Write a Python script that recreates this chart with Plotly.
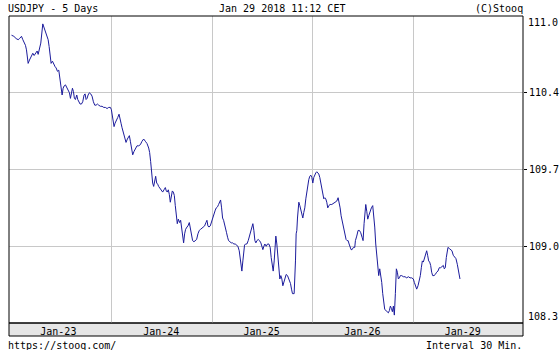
import plotly.graph_objects as go

# ---- data: hours since Jan 23 00:00 CET (trading-time axis), USDJPY price ----
hours = [
    0.00, 0.56, 1.11, 1.59, 1.91, 2.39, 2.71, 3.02, 3.34, 3.58, 3.82, 3.98, 4.30, 4.70,
    5.09, 5.41, 5.73, 6.13, 6.37, 6.69, 7.00, 7.48, 7.80, 8.12, 8.52, 8.76, 8.99, 9.23,
    9.47, 9.79, 10.11, 10.43, 10.67, 10.98, 11.30, 11.54, 11.70, 11.94, 12.10, 12.34,
    12.58, 12.90, 13.21, 13.53, 13.85, 14.09, 14.33, 14.57, 14.81, 15.04, 15.28, 15.60,
    15.84, 16.08, 16.40, 16.72, 17.03, 17.35, 17.59, 17.83, 18.07, 18.31, 18.63, 18.94,
    19.26, 19.58, 19.90, 20.22, 20.54, 20.85, 21.25, 21.65, 22.05, 22.45, 22.85, 23.24,
    23.64, 23.88, 24.04, 24.28, 24.52, 24.76, 25.07, 25.39, 25.71, 25.95, 26.19, 26.43,
    26.75, 27.06, 27.38, 27.70, 28.02,
    28.18, 28.42, 28.66, 28.98, 29.29, 29.61, 30.01, 30.41, 30.81, 31.20, 31.60, 32.00,
    32.40, 32.80, 33.03, 33.27, 33.43, 33.59, 33.75, 33.99, 34.23, 34.47, 34.71, 34.95,
    35.18, 35.50, 35.82, 36.14, 36.46, 36.78, 37.01, 37.25, 37.49, 37.73, 37.97, 38.21,
    38.45, 38.69, 38.93, 39.16, 39.40, 39.64, 39.88, 40.20, 40.44, 40.68, 40.92, 41.15,
    41.39, 41.63, 41.95, 42.19, 42.51, 42.75, 42.98, 43.30, 43.62, 43.94, 44.26, 44.58,
    44.89, 45.21, 45.53, 45.85, 46.17, 46.49, 46.73, 46.96, 47.20, 47.52, 47.76, 48.00,
    48.24, 48.48, 48.72, 48.96, 49.27, 49.51, 49.75, 49.99, 50.23, 50.47, 50.71, 50.95,
    51.18, 51.42, 51.66, 51.90, 52.22, 52.54, 52.86, 53.17, 53.49, 53.81, 54.13, 54.45,
    54.69, 54.92, 55.08, 55.32, 55.56, 55.72,
    55.96, 56.28, 56.60, 56.92, 57.23, 57.55, 57.71, 57.95, 58.19, 58.43, 58.67, 58.99,
    59.30, 59.62, 59.86, 60.10, 60.34, 60.58, 60.90, 61.21, 61.53, 61.85, 62.09, 62.33,
    62.57, 62.81, 63.04, 63.20, 63.44, 63.68, 63.92, 64.16, 64.40, 64.64, 64.88, 65.11,
    65.35, 65.67, 65.99, 66.23, 66.47, 66.71, 66.95, 67.18, 67.58, 67.74, 67.90, 68.06,
    68.22, 68.38, 68.54, 68.70, 68.94, 69.18, 69.41, 69.65, 69.89, 70.13, 70.37, 70.61,
    70.85, 71.08, 71.32, 71.56, 71.80, 72.04, 72.28, 72.52, 72.76, 72.99, 73.23, 73.47,
    73.71, 73.95, 74.19, 74.43, 74.67, 74.91, 75.14, 75.38, 75.62, 75.86, 76.18, 76.58,
    76.97, 77.37, 77.77, 78.09, 78.33, 78.57, 78.81, 79.04, 79.28, 79.52, 79.76, 80.00,
    80.24, 80.48, 80.72, 80.96, 81.19, 81.43, 81.75, 82.07,
    82.23, 82.55, 82.87, 83.19, 83.50, 83.82, 84.06, 84.30, 84.54, 84.70, 84.94, 85.18,
    85.41, 85.73, 86.05, 86.37, 86.61, 86.85, 87.09, 87.33, 87.56, 87.80, 88.04, 88.28,
    88.52, 88.76, 89.00, 89.24, 89.55, 89.87, 90.11, 90.35, 90.59, 90.83, 91.07, 91.31,
    91.54, 91.78, 92.02, 92.26, 92.50, 92.74, 92.98, 93.30, 93.69, 94.09, 94.49, 94.89,
    95.29, 95.68, 96.08, 96.32, 96.56, 96.88, 97.20, 97.51, 97.75, 97.99, 98.23, 98.47,
    98.71, 99.03, 99.27, 99.50, 99.74, 99.98, 100.22, 100.46, 100.70, 101.02, 101.33,
    101.65, 101.97, 102.29, 102.61, 102.93, 103.25, 103.48, 103.72, 103.96, 104.20,
    104.36, 104.68, 105.00, 105.31, 105.63, 105.95, 106.27, 106.59, 106.83, 107.07, 107.23,
]

prices = [
    110.87, 110.86, 110.84, 110.83, 110.84, 110.86, 110.83, 110.81, 110.78, 110.74, 110.68,
    110.62, 110.65, 110.68, 110.71, 110.69, 110.71, 110.73, 110.70, 110.74, 110.80, 110.97,
    110.93, 110.90, 110.86, 110.83, 110.77, 110.71, 110.62, 110.64, 110.61, 110.59, 110.58,
    110.55, 110.56, 110.49, 110.45, 110.39, 110.34, 110.40, 110.42, 110.43, 110.41, 110.39,
    110.36, 110.31, 110.36, 110.40, 110.37, 110.31, 110.30, 110.34, 110.30, 110.28, 110.26,
    110.26, 110.28, 110.34, 110.35, 110.30, 110.31, 110.34, 110.36, 110.35, 110.33, 110.28,
    110.25, 110.25, 110.26, 110.25, 110.24, 110.24, 110.23, 110.23, 110.22, 110.23, 110.23,
    110.21, 110.18, 110.12, 110.06, 110.09, 110.11, 110.14, 110.17, 110.14, 110.09, 110.05,
    110.01, 109.96, 109.92, 109.95, 109.98,
    109.98, 109.93, 109.87, 109.81, 109.84, 109.87, 109.89, 109.89, 109.90, 109.93, 109.95,
    109.93, 109.91, 109.87, 109.83, 109.75, 109.68, 109.62, 109.56, 109.53, 109.59, 109.62,
    109.56, 109.55, 109.53, 109.51, 109.50, 109.48, 109.50, 109.52, 109.49, 109.48, 109.50,
    109.46, 109.39, 109.45, 109.49, 109.48, 109.45, 109.36, 109.25, 109.20, 109.24, 109.21,
    109.23, 109.17, 109.09, 109.03, 109.11, 109.15, 109.17, 109.18, 109.21, 109.15, 109.09,
    109.05, 109.04, 109.05, 109.06, 109.11, 109.14, 109.15, 109.16, 109.17, 109.18, 109.21,
    109.23, 109.18, 109.17, 109.18, 109.21, 109.23, 109.27, 109.31, 109.32, 109.34, 109.35,
    109.37, 109.40, 109.41, 109.34, 109.25, 109.23, 109.20, 109.17, 109.12, 109.08, 109.05,
    109.04, 109.03, 109.03, 109.02, 109.02, 109.01, 109.00, 108.96, 108.90, 108.83, 108.78,
    108.87, 108.97, 109.01,
    109.02, 109.02, 109.05, 109.09, 109.14, 109.18, 109.20, 109.14, 109.05, 109.03, 109.05,
    109.06, 109.05, 109.03, 109.00, 108.97, 109.00, 109.02, 109.00, 109.02, 109.02, 108.99,
    108.90, 108.83, 108.78, 108.87, 109.02, 109.09, 109.02, 108.90, 108.78, 108.71, 108.74,
    108.71, 108.65, 108.68, 108.72, 108.75, 108.74, 108.72, 108.70, 108.67, 108.62, 108.58,
    108.58, 108.70, 108.87, 109.11, 109.14, 109.25, 109.36, 109.39, 109.36, 109.31, 109.27,
    109.25, 109.30, 109.34, 109.42, 109.49, 109.55, 109.59, 109.62, 109.63, 109.61, 109.56,
    109.61, 109.64, 109.65, 109.66, 109.65, 109.64, 109.61, 109.56, 109.50, 109.45, 109.42,
    109.43, 109.42, 109.39, 109.34, 109.36, 109.37, 109.37, 109.38, 109.39, 109.40, 109.43,
    109.39, 109.34, 109.27, 109.23, 109.18, 109.17, 109.12, 109.06, 109.05, 109.05, 109.02,
    108.99, 108.97, 108.97, 108.99, 108.99,
    109.05, 109.09, 109.14, 109.14, 109.12, 109.08, 109.05, 109.20, 109.31, 109.37, 109.31,
    109.24, 109.27, 109.31, 109.34, 109.36, 109.28, 109.17, 109.02, 108.90, 108.78, 108.74,
    108.80, 108.75, 108.68, 108.58, 108.49, 108.44, 108.43, 108.42, 108.41, 108.43, 108.47,
    108.45, 108.42, 108.47, 108.39, 108.58, 108.80, 108.77, 108.71, 108.72, 108.74, 108.74,
    108.73, 108.73, 108.72, 108.73, 108.72, 108.72, 108.71, 108.68, 108.65, 108.62, 108.65,
    108.69, 108.74, 108.81, 108.87, 108.86, 108.89, 108.92, 108.96, 108.92, 108.87, 108.86,
    108.83, 108.77, 108.74, 108.74, 108.75, 108.77, 108.78, 108.81, 108.81, 108.82, 108.83,
    108.80, 108.81, 108.90, 108.97, 108.99, 108.98, 108.97, 108.96, 108.92, 108.90, 108.89,
    108.84, 108.80, 108.75, 108.71,
]

day_labels = ["Jan-23", "Jan-24", "Jan-25", "Jan-26", "Jan-29"]
day_label_pos = [11.2, 35.8, 59.8, 83.9, 107.9]   # centres of the trading days (hours)
day_bounds = [24, 48, 72, 96]                        # midnight separators (hours)

y_min, y_max = 108.32, 111.04
y_tick_text = ["108.3", "109.0", "109.7", "110.4", "111.0"]
y_tick_vals = [y_min + i * (y_max - y_min) / 4 for i in range(5)]

header_left = "USDJPY - 5 Days"
header_mid = "Jan 29 2018 11:12 CET"
header_right = "(C)Stooq"
footer_left = "https://stooq.com/"
footer_right = "Interval 30 Min."

FONT = "DejaVu Sans Mono"
FS = 10
GRID = "#c8c8c8"
LINE = "#1c1c9c"

fig = go.Figure(
    go.Scatter(x=hours, y=prices, mode="lines",
               line=dict(color=LINE, width=1), hoverinfo="skip")
)

fig.update_layout(
    width=560, height=350,
    margin=dict(l=9, r=37, t=16, b=27, autoexpand=False),
    paper_bgcolor="white", plot_bgcolor="white",
    showlegend=False,
    font=dict(family=FONT, size=FS, color="black"),
    xaxis=dict(
        range=[-0.6, 122.3], automargin=False,
        tickvals=day_label_pos, ticktext=day_labels,
        showgrid=False, zeroline=False, showline=False,
        ticks="", ticklen=0, ticklabelstandoff=1,
        tickfont=dict(family=FONT, size=FS, color="black"),
        minor=dict(tickvals=day_bounds, showgrid=True, gridcolor=GRID,
                   gridwidth=1, ticks=""),
        fixedrange=True,
    ),
    yaxis=dict(
        range=[y_min, y_max], side="right", automargin=False,
        tickvals=y_tick_vals[1:4], ticktext=y_tick_text[1:4],
        showgrid=True, gridcolor=GRID, gridwidth=1,
        zeroline=False, showline=False,
        ticks="outside", ticklen=3, tickcolor="black", tickwidth=1,
        tickfont=dict(family=FONT, size=FS, color="black"),
        fixedrange=True,
    ),
    shapes=[
        # band holding the date labels
        dict(type="rect", xref="paper", yref="paper", x0=0, x1=1,
             y0=-13 / 307, y1=0, fillcolor="#e6e6e6",
             line=dict(color="black", width=1), layer="below"),
        # plot frame
        dict(type="rect", xref="paper", yref="paper", x0=0, x1=1, y0=0, y1=1,
             line=dict(color="black", width=1), fillcolor="rgba(0,0,0,0)",
             layer="above"),
    ],
)

ann = []
# top and bottom price labels sit inside the axis range
ann.append(dict(xref="paper", yref="y", x=1, y=y_tick_vals[4], text=y_tick_text[4],
                xanchor="left", yanchor="top", xshift=3, yshift=1, showarrow=False))
ann.append(dict(xref="paper", yref="y", x=1, y=y_tick_vals[0], text=y_tick_text[0],
                xanchor="left", yanchor="bottom", xshift=3, yshift=-1, showarrow=False))
# header
ann.append(dict(xref="paper", yref="paper", x=0, y=1, text=header_left,
                xanchor="left", yanchor="middle", xshift=-3, yshift=8, showarrow=False))
ann.append(dict(xref="paper", yref="paper", x=(282 - 9) / 514, y=1, text=header_mid,
                xanchor="center", yanchor="middle", yshift=8, showarrow=False))
ann.append(dict(xref="paper", yref="paper", x=1, y=1, text=header_right,
                xanchor="right", yanchor="middle", xshift=2, yshift=8, showarrow=False))
# footer
ann.append(dict(xref="paper", yref="paper", x=0, y=0, text=footer_left,
                xanchor="left", yanchor="middle", xshift=-3, yshift=-22, showarrow=False))
ann.append(dict(xref="paper", yref="paper", x=1, y=0, text=footer_right,
                xanchor="right", yanchor="middle", xshift=1, yshift=-22, showarrow=False))
fig.update_layout(annotations=ann)

fig.write_html("out.html", config={"displayModeBar": False})
